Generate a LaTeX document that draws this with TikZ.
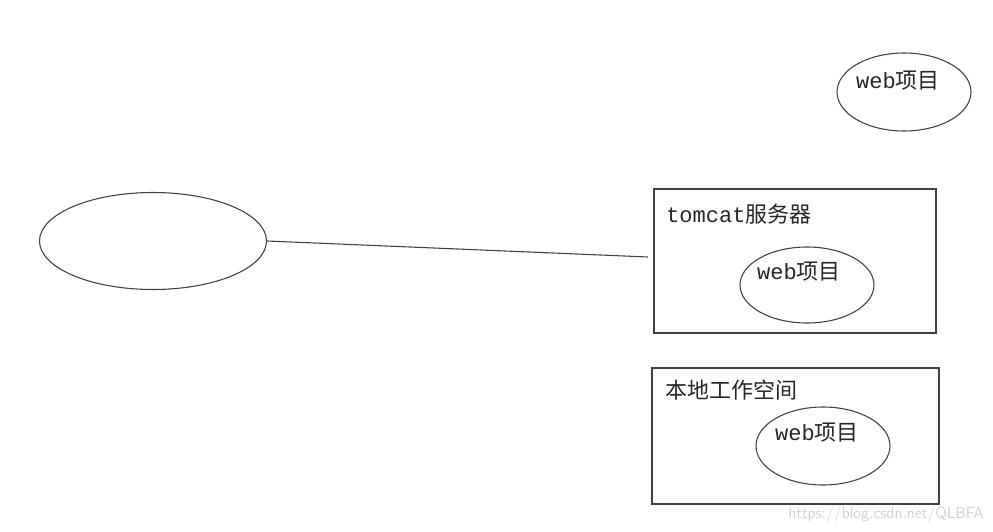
\documentclass[tikz,border=0pt]{standalone}
\usepackage{fontspec}
\setmainfont{Liberation Mono}
\newfontfamily\cjk{Noto Sans CJK SC}
\usetikzlibrary{shapes.geometric}
\begin{document}
\begin{tikzpicture}[x=0.75pt,y=-0.75pt,
  shape line/.style={draw=black!75,line width=0.8pt},
  oval/.style={shape line,ellipse,inner sep=0pt},
  frame/.style={shape line,line width=1pt},
  lbl/.style={font=\fontsize{16.5}{18}\selectfont,text=black!85,inner sep=0pt},
  wm/.style={font=\sffamily\fontsize{12}{14}\selectfont,text=black!18,inner sep=0pt}]
\useasboundingbox[fill=white] (0,0) rectangle (993,532);
% left ellipse
\node[oval,minimum width=227*0.75pt,minimum height=97*0.75pt] (client) at (153,241) {};
% top ellipse
\node[oval,minimum width=134*0.75pt,minimum height=78*0.75pt] (webtop) at (904,92) {};
\node[lbl] (webtopt) at (898,81) {web{\cjk 项目}};
% tomcat box
\draw[frame] (654,189) rectangle (936,333);
\coordinate (tomcatbox) at (654,257);
\node[lbl,anchor=west] (tomcatt) at (666,214) {tomcat{\cjk 服务器}};
\node[oval,minimum width=134*0.75pt,minimum height=76*0.75pt] (webtomcat) at (807,285) {};
\node[lbl] (webtomcatt) at (799,272) {web{\cjk 项目}};
% workspace box
\draw[frame] (652,368) rectangle (939,504);
\node[lbl,anchor=west] (workt) at (665,390) {\cjk 本地工作空间};
\node[oval,minimum width=134*0.75pt,minimum height=78*0.75pt] (webwork) at (823,446) {};
\node[lbl] (webworkt) at (817,433) {web{\cjk 项目}};
% connector
\coordinate (lineend) at (648,257);
\draw[shape line] (client.east) -- (lineend);
% watermark
\node[wm,anchor=east] (wmark) at (984,514) {https://blog.csdn.net/QLBFA};
\end{tikzpicture}
\end{document}
